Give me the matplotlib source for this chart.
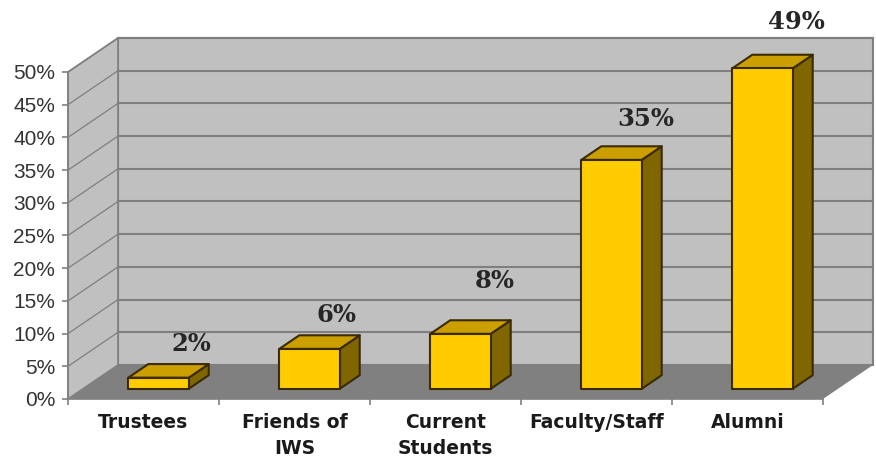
import matplotlib
matplotlib.use('Agg')
import matplotlib.pyplot as plt
from matplotlib.patches import Polygon

categories = ['Trustees', 'Friends of\nIWS', 'Current\nStudents', 'Faculty/Staff', 'Alumni']
values = [1.7, 6.1, 8.4, 35, 49]
value_labels = ['2%', '6%', '8%', '35%', '49%']
y_ticks = [0, 5, 10, 15, 20, 25, 30, 35, 40, 45, 50]

W, H = 876, 458
# pixels of the front plane of the chart
left, right, top, bottom = 68, 823, 72, 399
# offset of the back wall, in data units
dx = 50 / 151.0
dy = 34 / 6.54

fig = plt.figure(figsize=(W / 100, H / 100), dpi=100)
ax = fig.add_axes([left / W, 1 - bottom / H, (right - left) / W, (bottom - top) / H])
ax.set_xlim(0, 5)
ax.set_ylim(0, 50)
ax.patch.set_visible(False)
for s in ['top', 'right']:
    ax.spines[s].set_visible(False)
for s in ['left', 'bottom']:
    ax.spines[s].set_color('#808080')
    ax.spines[s].set_linewidth(1.2)

wall = '#c0c0c0'
floor = '#808080'
grid = '#7f7f7f'

# walls and floor
ax.add_patch(Polygon([(dx, dy), (5 + dx, dy), (5 + dx, 50 + dy), (dx, 50 + dy)], fc=wall, ec=grid, lw=1.5, clip_on=False, zorder=1))
ax.add_patch(Polygon([(0, 0), (dx, dy), (dx, 50 + dy), (0, 50)], fc=wall, ec=grid, lw=1.2, clip_on=False, zorder=1))
ax.add_patch(Polygon([(0, 0), (5, 0), (5 + dx, dy), (dx, dy)], fc=floor, ec='none', clip_on=False, zorder=1))

# gridlines, thinner on the side wall
for t in y_ticks[1:]:
    ax.plot([0, dx], [t, t + dy], color=grid, lw=0.9, clip_on=False, zorder=2)
    ax.plot([dx, 5 + dx], [t + dy, t + dy], color=grid, lw=1.5, clip_on=False, zorder=2)

# bars
bar_w = 0.40
front = 0.3
back = 0.70
edge = '#3a2a00'
# labels were placed by hand in the original, pixels from the bar top
label_dx = [47.5, 42.5, 49.5, 49.5, 48.5]
label_dy = [34, 34, 53, 41, 46]
for i, v in enumerate(values):
    x0 = i + 0.5 + front * dx - bar_w / 2
    x1 = x0 + bar_w
    y0 = front * dy
    y1 = y0 + v
    ox = (back - front) * dx
    oy = (back - front) * dy
    ax.add_patch(Polygon([(x1, y0), (x1 + ox, y0 + oy), (x1 + ox, y1 + oy), (x1, y1)], fc='#806600', ec=edge, lw=1.5, clip_on=False, zorder=3, joinstyle='round'))
    ax.add_patch(Polygon([(x0, y1), (x1, y1), (x1 + ox, y1 + oy), (x0 + ox, y1 + oy)], fc='#cc9f00', ec=edge, lw=1.5, clip_on=False, zorder=3, joinstyle='round'))
    ax.add_patch(Polygon([(x0, y0), (x1, y0), (x1, y1), (x0, y1)], fc='#ffcc00', ec=edge, lw=1.5, clip_on=False, zorder=4, joinstyle='round'))
    ax.annotate(value_labels[i], (i + 0.5, y1), xytext=(label_dx[i], label_dy[i]), textcoords='offset pixels', ha='center', va='center',
                family='DejaVu Serif', fontweight='bold', fontsize=17.5, color='#262626', zorder=5, annotation_clip=False)

ax.set_yticks(y_ticks)
ax.set_yticklabels([str(t) + '%' for t in y_ticks], family='Liberation Sans', fontsize=15, color='#333333')
ax.set_xticks(range(6))
ax.set_xticklabels([])
ax.tick_params(axis='both', color='#808080', length=4.3, width=1.2, pad=5)

for i, c in enumerate(categories):
    ax.annotate(c, (i + 0.5, 0), xytext=(0, -14), textcoords='offset pixels', ha='center', va='top',
                family='DejaVu Sans', fontweight='bold', fontsize=13.5, color='#1a1a1a', linespacing=1.5, annotation_clip=False)

fig.savefig('out.png', dpi=100, facecolor='white')
